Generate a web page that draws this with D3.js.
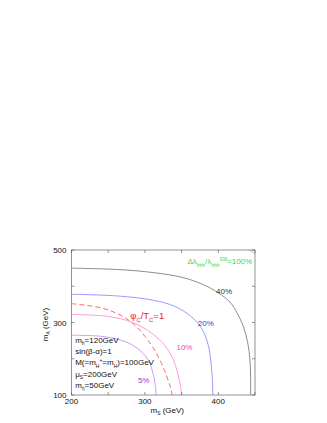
<!DOCTYPE html>
<html>
<head>
<meta charset="utf-8">
<script src="https://cdn.jsdelivr.net/npm/d3@7"></script>
<style>
body { margin: 0; background: #fff; }
svg { display: block; font-family: "Liberation Sans", Arial, Helvetica, sans-serif; }
</style>
</head>
<body>
<div id="chart"></div>
<script>
"use strict"

// axes
var xDomain = [200, 450];
var yDomain = [100, 500];
var xTicks = [200, 250, 300, 350, 400, 450];
var xTickLabels = [200, 300, 400];
var yTicks = [100, 200, 300, 400, 500];
var yTickLabels = [100, 300, 500];

// contours: m_S (GeV) and m_A (GeV)
var ms5   = [200, 240, 266, 283, 296, 305, 311, 314, 315.5];
var mA5   = [265, 262, 252, 238, 218, 195, 160, 130, 100];
var ms10  = [200, 245, 275, 296, 312, 326, 337, 344, 348, 350];
var mA10  = [322, 318, 306, 288, 266, 240, 205, 165, 130, 100];
var msPhi = [200, 241, 266, 285, 300, 312, 322, 330, 335, 337];
var mAPhi = [352, 340, 321, 295, 262, 228, 190, 150, 120, 100];
var ms20  = [200, 264, 310, 340, 362, 377, 386, 390, 392, 392.5];
var mA20  = [378, 373, 362, 345, 318, 285, 240, 190, 140, 100];
var ms40  = [200, 264, 310, 352, 380, 400, 416, 426, 434, 440, 443, 444, 444];
var mA40  = [450, 446, 438, 424, 404, 382, 356, 325, 290, 245, 200, 150, 100];
var ms100 = [442, 446, 450];
var mA100 = [500, 495.5, 489];

var W = 327, H = 423;
var pLeft = 71.5, pRight = 255, pTop = 250, pBottom = 395;

var svg = d3.select("#chart")
	.append("svg")
	.attr("width", W)
	.attr("height", H)
	;

var x = d3.scaleLinear().domain(xDomain).range([pLeft, pRight]);
var y = d3.scaleLinear().domain(yDomain).range([pBottom, pTop]);

var line = d3.line()
	.x(function(d) { return x(d[0]); })
	.y(function(d) { return y(d[1]); })
	.curve(d3.curveCatmullRom.alpha(0.5))
	;

function pairs(a, b) {
	return a.map(function(v, i) { return [v, b[i]]; });
}

var curves = [
	{pts: pairs(ms100, mA100), color: "#55e655", dash: null},
	{pts: pairs(ms40,  mA40),  color: "#707070", dash: null},
	{pts: pairs(ms20,  mA20),  color: "#8080ff", dash: null},
	{pts: pairs(msPhi, mAPhi), color: "#ff4444", dash: "5,3"},
	{pts: pairs(ms10,  mA10),  color: "#ff80e0", dash: null},
	{pts: pairs(ms5,   mA5),   color: "#c482f2", dash: null}
];

svg.append("clipPath").attr("id", "plotClip")
	.append("rect")
	.attr("x", pLeft)
	.attr("y", pTop)
	.attr("width", pRight - pLeft)
	.attr("height", pBottom - pTop)
	;

svg.append("g")
	.attr("clip-path", "url(#plotClip)")
	.selectAll("path")
	.data(curves)
	.enter()
	.append("path")
	.attr("d", function(d) { return line(d.pts); })
	.attr("fill", "none")
	.attr("stroke", function(d) { return d.color; })
	.attr("stroke-width", 0.8)
	.attr("stroke-dasharray", function(d) { return d.dash; })
	;

// frame and inward ticks on all four sides
var axisColor = "#666";
var gAxes = svg.append("g")
	.attr("stroke", axisColor)
	.attr("stroke-width", 0.7)
	;
gAxes.append("rect")
	.attr("x", pLeft)
	.attr("y", pTop)
	.attr("width", pRight - pLeft)
	.attr("height", pBottom - pTop)
	.attr("fill", "none")
	;
var tl = 3;
xTicks.forEach(function(t) {
	gAxes.append("line").attr("x1", x(t)).attr("x2", x(t)).attr("y1", pBottom).attr("y2", pBottom - tl);
	gAxes.append("line").attr("x1", x(t)).attr("x2", x(t)).attr("y1", pTop).attr("y2", pTop + tl);
});
yTicks.forEach(function(t) {
	gAxes.append("line").attr("x1", pLeft).attr("x2", pLeft + tl).attr("y1", y(t)).attr("y2", y(t));
	gAxes.append("line").attr("x1", pRight).attr("x2", pRight - tl).attr("y1", y(t)).attr("y2", y(t));
});

var fs = 8;
svg.append("g")
	.selectAll("text")
	.data(xTickLabels)
	.enter()
	.append("text")
	.attr("x", function(d) { return x(d); })
	.attr("y", pBottom + 9)
	.attr("text-anchor", "middle")
	.style("font-size", fs + "px")
	.attr("fill", "#111")
	.text(function(d) { return d; })
	;
svg.append("g")
	.selectAll("text")
	.data(yTickLabels)
	.enter()
	.append("text")
	.attr("x", pLeft - 5)
	.attr("y", function(d) { return y(d) + 3; })
	.attr("text-anchor", "end")
	.style("font-size", fs + "px")
	.attr("fill", "#111")
	.text(function(d) { return d; })
	;

// text with sub/superscripts: parts = [[string, "n"|"sub"|"sup"], ...]
function richText(g, px, py, parts, color, size, anchor) {
	var t = g.append("text")
		.attr("x", px)
		.attr("y", py)
		.attr("fill", color)
		.attr("text-anchor", anchor || "start")
		.style("font-size", size + "px")
		;
	var shift = 0;
	parts.forEach(function(p) {
		var target = 0, fsz = size;
		if (p[1] == "sub") { target = size * 0.3; fsz = size * 0.62; }
		if (p[1] == "sup") { target = -size * 0.42; fsz = size * 0.62; }
		t.append("tspan")
			.attr("dy", target - shift)
			.style("font-size", fsz + "px")
			.text(p[0])
			;
		shift = target;
	});
	return t;
}

richText(svg, (pLeft + pRight) / 2 + 4, pBottom + 18,
	[["m", "n"], ["S", "sub"], [" (GeV)", "n"]], "#111", fs, "middle");

var yl = svg.append("g")
	.attr("transform", "translate(" + (pLeft - 24) + "," + (y(300) + 2) + ") rotate(-90)")
	;
richText(yl, 0, 0, [["m", "n"], ["A", "sub"], [" (GeV)", "n"]], "#111", fs, "middle");

// contour labels
richText(svg, x(358), y(461), [["\u0394\u03bb", "n"], ["hhh", "sub"], ["/\u03bb", "n"], ["hhh", "sub"], ["SM", "sup"], ["=100%", "n"]], "#3ed83e", fs);
richText(svg, x(397), y(379), [["40%", "n"]], "#333", fs);
richText(svg, x(280), y(310), [["\u03c6", "n"], ["C", "sub"], ["/T", "n"], ["C", "sub"], ["=1", "n"]], "#e8201c", 9.5);
richText(svg, x(372), y(290), [["20%", "n"]], "#3a3ad0", fs);
richText(svg, x(343), y(224), [["10%", "n"]], "#ff30c8", fs);
richText(svg, x(290.5), y(133), [["5%", "n"]], "#a838e0", fs);

// parameter block
var lx = x(205), ly = y(100) - 52, step = 11.2;
var params = [
	[["m", "n"], ["h", "sub"], ["=120GeV", "n"]],
	[["sin(\u03b2-\u03b1)=1", "n"]],
	[["M(=m", "n"], ["H", "sub"], ["+", "sup"], ["=m", "n"], ["H", "sub"], [")=100GeV", "n"]],
	[["\u03bc", "n"], ["S", "sub"], ["=200GeV", "n"]],
	[["m", "n"], ["\u03b7", "sub"], ["=50GeV", "n"]]
];
params.forEach(function(p, i) {
	richText(svg, lx, ly + i * step, p, "#111", fs);
});
</script>
</body>
</html>
